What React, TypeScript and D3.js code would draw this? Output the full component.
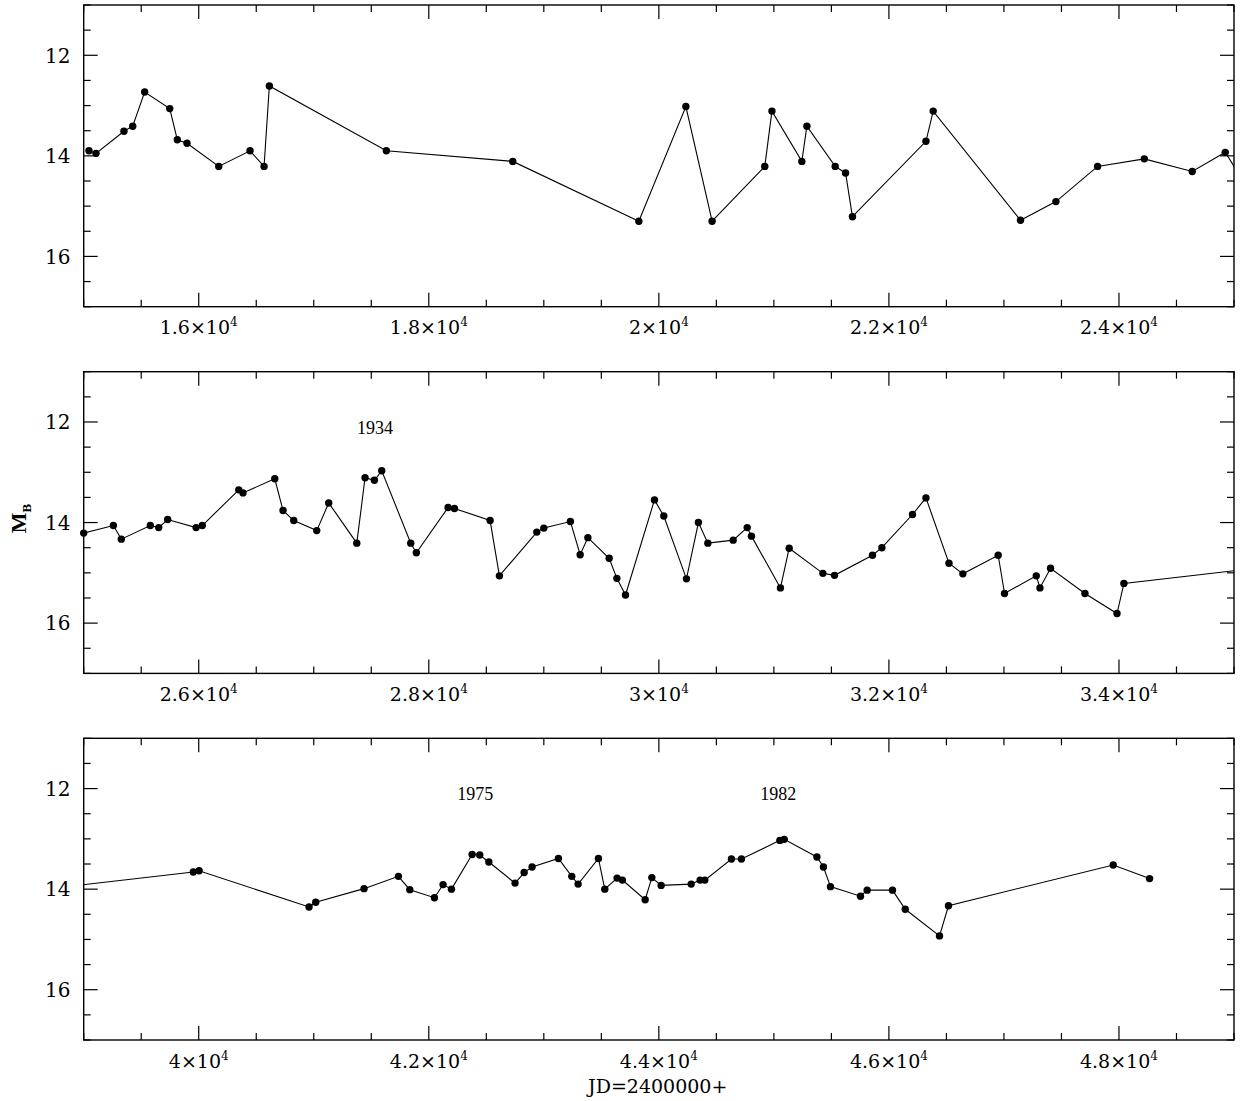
import React from "react";
import * as d3 from "d3";

// ---- data (JD - 2400000, blue magnitude) ----
const jd1 = [15046, 15107, 15350, 15426, 15530, 15748, 15814, 15898, 16174, 16446, 16568, 16614, 17631, 18730, 19826, 20235, 20463, 20921, 20983, 21243, 21287, 21533, 21623, 21683, 22322, 22385, 23144, 23452, 23814, 24220, 24637, 24924];
const mag1 = [13.9, 13.95, 13.51, 13.41, 12.73, 13.06, 13.68, 13.75, 14.21, 13.9, 14.21, 12.61, 13.9, 14.11, 15.3, 13.02, 15.3, 14.21, 13.11, 14.11, 13.41, 14.21, 14.34, 15.21, 13.71, 13.11, 15.28, 14.91, 14.21, 14.06, 14.31, 13.93];

const jd2 = [25000, 25258, 25327, 25579, 25652, 25730, 25977, 26031, 26348, 26385, 26661, 26733, 26826, 27026, 27130, 27374, 27446, 27527, 27591, 27843, 27892, 28168, 28223, 28533, 28614, 28939, 29000, 29231, 29316, 29383, 29568, 29635, 29710, 29962, 30043, 30240, 30344, 30426, 30646, 30768, 30805, 31057, 31133, 31426, 31527, 31857, 31939, 32205, 32322, 32522, 32643, 32950, 33005, 33281, 33313, 33405, 33704, 33983, 34043];
const mag2 = [14.21, 14.06, 14.33, 14.06, 14.1, 13.94, 14.1, 14.06, 13.35, 13.41, 13.13, 13.76, 13.96, 14.16, 13.61, 14.41, 13.11, 13.16, 12.97, 14.41, 14.6, 13.7, 13.72, 13.96, 15.06, 14.19, 14.11, 13.98, 14.64, 14.3, 14.71, 15.11, 15.44, 13.55, 13.87, 15.12, 14.0, 14.41, 14.35, 14.1, 14.27, 15.3, 14.51, 15.01, 15.05, 14.65, 14.5, 13.84, 13.51, 14.81, 15.02, 14.65, 15.41, 15.06, 15.3, 14.91, 15.41, 15.81, 15.21];

const jd3 = [39953, 40003, 40959, 41017, 41437, 41736, 41835, 42049, 42124, 42197, 42377, 42443, 42522, 42750, 42829, 42898, 43127, 43243, 43298, 43475, 43530, 43637, 43683, 43881, 43939, 44020, 44281, 44359, 44400, 44631, 44718, 45052, 45090, 45374, 45431, 45492, 45753, 45811, 46031, 46142, 46440, 46518, 47950, 48266];
const mag3 = [13.66, 13.635, 14.355, 14.26, 13.99, 13.745, 14.01, 14.17, 13.91, 14.0, 13.31, 13.32, 13.46, 13.88, 13.67, 13.56, 13.39, 13.745, 13.9, 13.39, 14.0, 13.78, 13.82, 14.21, 13.77, 13.925, 13.9, 13.82, 13.82, 13.4, 13.4, 13.03, 13.01, 13.36, 13.56, 13.95, 14.14, 14.02, 14.02, 14.4, 14.93, 14.33, 13.52, 13.79];

const panelRanges: [number, number][] = [[15000, 25000], [25000, 35000], [39000, 49000]];
const magDomain: [number, number] = [11, 17];
const yLabelTicks = [12, 14, 16];

const yearLabels = [
  { panel: 1, jd: 27533, mag: 12.24, text: "1934" },
  { panel: 2, jd: 42403, mag: 12.23, text: "1975" },
  { panel: 2, jd: 45037, mag: 12.23, text: "1982" },
];

const W = 1247;
const H = 1101;
const X0 = 83.7;
const X1 = 1234;
const panelTops = [5, 371.7, 738.3];
const panelH = 301.7;

const allJd = [...jd1, ...jd2, ...jd3];
const allMag = [...mag1, ...mag2, ...mag3];
const points = allJd.map((j, i) => ({ jd: j, mag: allMag[i] }));

const tickFont = "'DejaVu Serif', serif";

function fmtX(v: number) {
  return String(+(v / 1e4).toFixed(1));
}

function Panel({ idx }: { idx: number }) {
  const top = panelTops[idx];
  const bottom = top + panelH;
  const [d0, d1] = panelRanges[idx];
  const x = d3.scaleLinear().domain([d0, d1]).range([X0, X1]);
  const y = d3.scaleLinear().domain(magDomain).range([top, bottom]);
  const line = d3
    .line<{ jd: number; mag: number }>()
    .x((d) => x(d.jd))
    .y((d) => y(d.mag));
  const minorX = d3.range(d0, d1 + 1, 500);
  const minorY = d3.range(magDomain[0], magDomain[1] + 0.001, 0.5);
  const clipId = `clip${idx}`;
  const visible = points.filter((p) => p.jd >= d0 && p.jd < d1);
  const sw = 1.2;
  return (
    <g>
      <defs>
        <clipPath id={clipId}>
          <rect x={X0} y={top} width={X1 - X0} height={panelH} />
        </clipPath>
      </defs>
      {minorX.map((v) => {
        const major = Math.abs(v % 2000) < 1e-6;
        const len = major ? 14 : 7;
        const px = x(v);
        return (
          <g key={"x" + v}>
            <line x1={px} x2={px} y1={bottom} y2={bottom - len} stroke="#000" strokeWidth={sw} />
            <line x1={px} x2={px} y1={top} y2={top + len} stroke="#000" strokeWidth={sw} />
          </g>
        );
      })}
      {minorY.map((v) => {
        const major = Math.abs(v % 2) < 1e-6;
        const len = major ? 14 : 7;
        const py = y(v);
        return (
          <g key={"y" + v}>
            <line x1={X0} x2={X0 + len} y1={py} y2={py} stroke="#000" strokeWidth={sw} />
            <line x1={X1} x2={X1 - len} y1={py} y2={py} stroke="#000" strokeWidth={sw} />
          </g>
        );
      })}
      <rect x={X0} y={top} width={X1 - X0} height={panelH} fill="none" stroke="#000" strokeWidth={1.4} />
      {minorX
        .filter((v) => Math.abs(v % 2000) < 1e-6 && v > d0 && v < d1)
        .map((v) => (
          <text key={"xl" + v} x={x(v)} y={bottom + 27.5} textAnchor="middle" fontFamily={tickFont} fontSize={19} fill="#000">
            {fmtX(v)}×10
            <tspan fontSize={12} dy={-8}>4</tspan>
          </text>
        ))}
      {yLabelTicks.map((v) => (
        <text key={"yl" + v} x={70.5} y={y(v) + 7.3} textAnchor="end" fontFamily={tickFont} fontSize={20} fill="#000">
          {v}
        </text>
      ))}
      <g clipPath={`url(#${clipId})`}>
        <path d={line(points) || ""} fill="none" stroke="#000" strokeWidth={1.1} />
      </g>
      {visible.map((p, i) => (
        <circle key={i} cx={x(p.jd)} cy={y(p.mag)} r={3.7} fill="#000" />
      ))}
      {yearLabels
        .filter((l) => l.panel === idx)
        .map((l) => (
          <text key={l.text} x={x(l.jd)} y={y(l.mag)} textAnchor="middle" fontFamily="'Liberation Serif', serif" fontSize={18} fill="#000">
            {l.text}
          </text>
        ))}
    </g>
  );
}

export default function App() {
  const midY = panelTops[1] + panelH / 2;
  return (
    <svg width={W} height={H} style={{ position: "absolute", left: 0, top: 0, background: "#fff" }}>
      <rect x={0} y={0} width={W} height={H} fill="#fff" />
      {[0, 1, 2].map((i) => (
        <Panel key={i} idx={i} />
      ))}
      <text transform={`translate(25.5, ${midY - 4}) rotate(-90)`} textAnchor="middle" fontFamily="'Liberation Serif', serif" fontWeight="bold" fontSize={22} fill="#000">
        M
        <tspan fontSize={13} dy={5}>B</tspan>
      </text>
      <text x={657.7} y={1093} textAnchor="middle" fontFamily={tickFont} fontSize={19} fill="#000">
        JD=2400000+
      </text>
    </svg>
  );
}
